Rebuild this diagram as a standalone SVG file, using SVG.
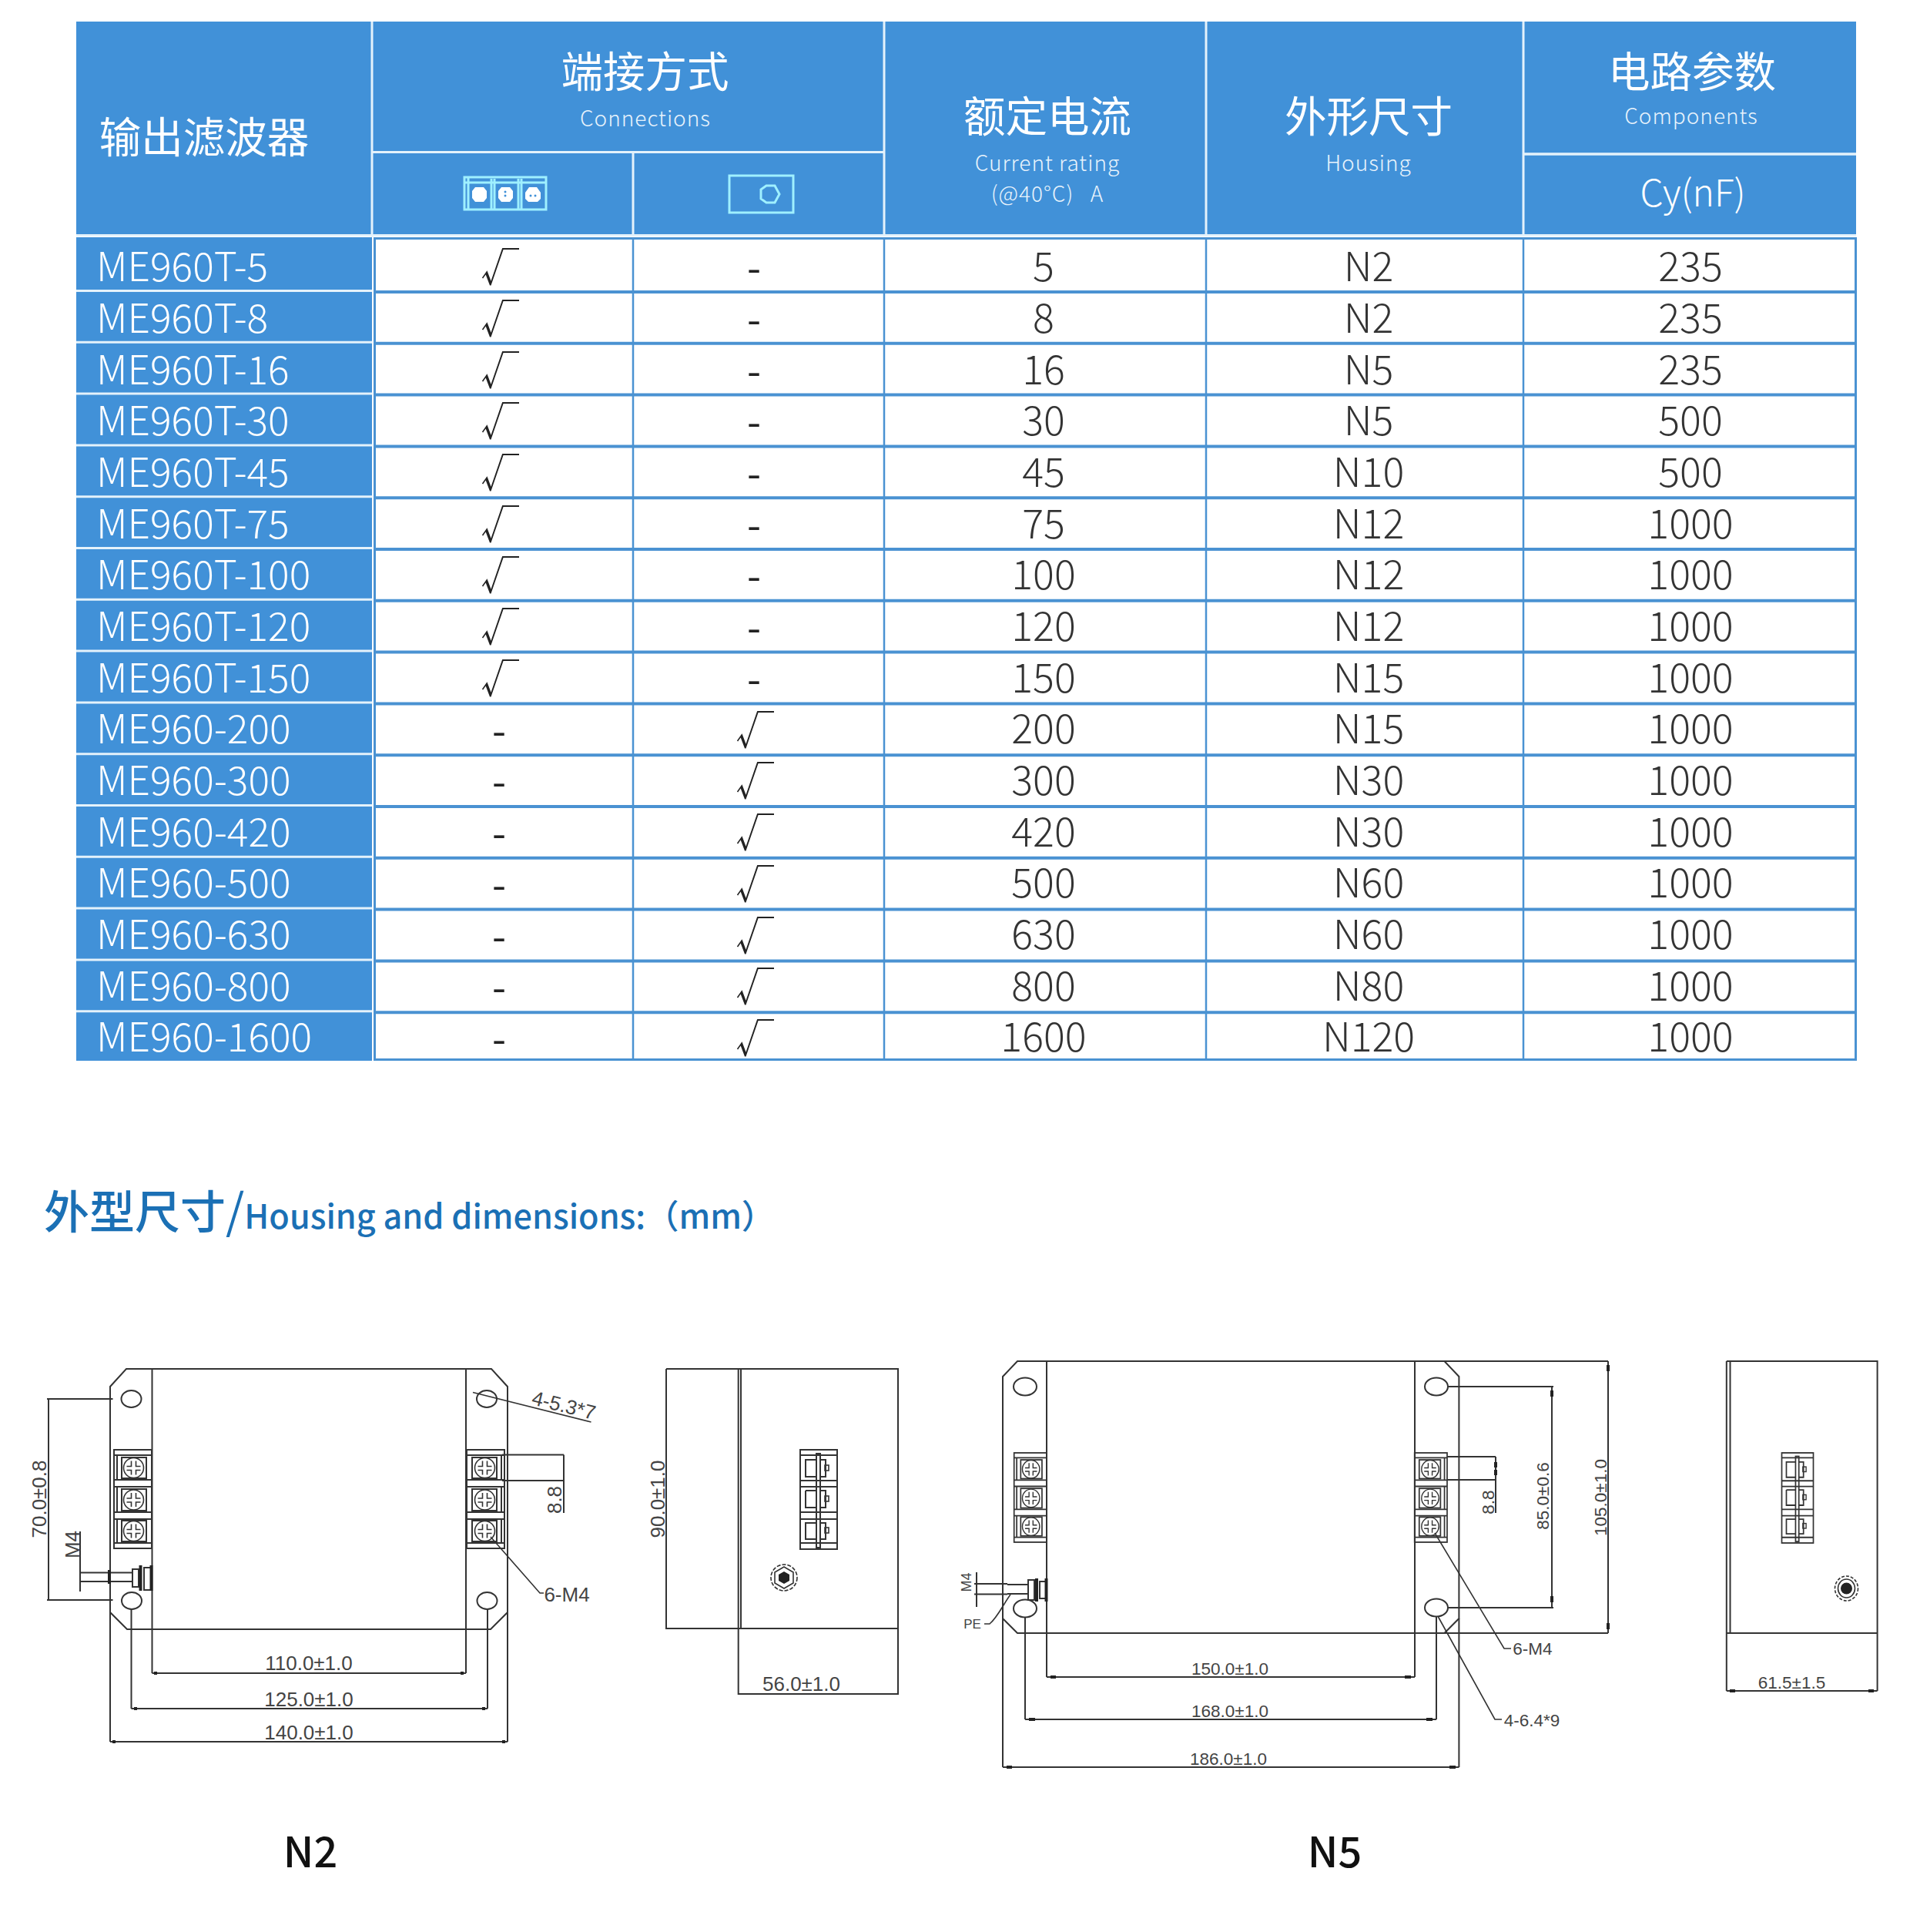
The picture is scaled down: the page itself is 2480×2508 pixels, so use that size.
<svg xmlns="http://www.w3.org/2000/svg" width="2480" height="2508" viewBox="0 0 2480 2508">
<style>
text{font-family:"Noto Sans CJK SC","Noto Sans",sans-serif;font-weight:300}
.h{fill:#fff;font-size:54.5px;text-anchor:middle;font-weight:400}
.s{fill:#e8f3fc;font-size:28px;text-anchor:middle;letter-spacing:1px}
.m{fill:#fff;font-size:51.5px}
.t{fill:#333;font-size:52px;text-anchor:middle}
.c{fill:#222;font-size:50px;text-anchor:middle}
.x{fill:#222;font-size:52px;text-anchor:middle;font-weight:400}
.d{font-family:"Liberation Sans",Arial,sans-serif;font-size:26px;fill:#444;text-anchor:middle;font-weight:400}
.e{font-family:"Liberation Sans",Arial,sans-serif;font-size:22.5px;fill:#444;text-anchor:middle;font-weight:400}
.l{fill:none;stroke:#333;stroke-width:2}
.f{fill:none;stroke:#333;stroke-width:1.6}
.a{fill:none;stroke:#222;stroke-width:4}
.i{fill:none;stroke:#9ff0ff;stroke-width:3}
.wl{stroke:#e4f2fb;stroke-width:3}
.bl{stroke:#4a92d2;stroke-width:4}
.bv{stroke:#4a92d2;stroke-width:2.5}
</style>
<defs>
<g id="screw"><circle r="13" class="f"/><path class="f" d="M-9-2H-3V-9M3-9V-2H9M9 3H3V9M-3 9V3H-9"/></g>
<g id="frontT">
<rect x="0" y="0" width="49" height="128" class="l"/>
<path class="l" d="M0 7H49M0 39H49M0 48H49M0 81H49M0 90H49M0 121H49M4 7V39M4 48V81M4 90V121"/>
<rect x="10" y="10" width="32" height="27" class="l"/><rect x="10" y="51" width="32" height="28" class="l"/><rect x="10" y="92" width="32" height="27" class="l"/>
<use href="#screw" x="25.5" y="23.5"/><use href="#screw" x="25.5" y="65"/><use href="#screw" x="25.5" y="105.5"/>
</g>
<g id="sideT">
<rect x="0" y="0" width="48" height="129" class="l"/>
<path class="l" d="M0 7H48M0 40H48M0 48H48M0 81H48M0 90H48M0 121H48"/>
<rect x="21" y="5" width="5" height="122" class="l"/>
<path class="l" d="M21 13H7V35H21M7 53H21M7 53V75H21M21 95H7V116H21M26 13H33V35H26M26 53H33V75H26M26 95H33V116H26"/>
<rect x="32" y="20" width="5" height="7" class="f"/><rect x="32" y="60" width="5" height="7" class="f"/><rect x="32" y="101" width="5" height="7" class="f"/>
</g>
</defs>
<rect width="2480" height="2508" fill="#fff"/>

<g id="table-header">
<rect x="99" y="28" width="2311" height="276" fill="#4191d8"/>
<path class="wl" d="M99 305.500H2410M483 28V308M1148 28V305M1566 28V305M1978 28V305M483 197.500H1148M822 198V305"/>
<path stroke="#e4f2fb" stroke-width="3.500" d="M1978 200H2410"/>
<text class="h" x="265" y="198">输出滤波器</text>
<text class="h" x="837.500" y="113">端接方式</text>
<text class="s" x="838" y="164">Connections</text>
<text class="h" x="1360" y="171">额定电流</text>
<text class="s" x="1360" y="222">Current rating</text>
<text class="s" x="1360" y="262" xml:space="preserve">(@40°C)   A</text>
<text class="h" x="1777" y="171">外形尺寸</text>
<text class="s" x="1777" y="222">Housing</text>
<text class="h" x="2197" y="113">电路参数</text>
<text class="s" x="2196" y="161">Components</text>
<text class="m" x="2198" y="268" text-anchor="middle" style="font-size:48px">Cy(nF)</text>
<g id="icon-terminal">
<rect x="603" y="230" width="106" height="42" class="i" stroke-width="3.500"/><path class="i" d="M603 237H709M608 230V272M638 232V272M642 232V272M673 232V272M677 232V272"/>
<path fill="#fff" d="M617 243H628L632 248V257L628 262H617L613 257V248ZM651 243H662L666 248V257L662 262H651L647 257V248ZM687 243H697L702 250V258L698 262H686L682 258V250Z"/>
<circle cx="656" cy="249" r="1.500" fill="#4191d8"/><circle cx="656" cy="254" r="1.500" fill="#4191d8"/>
<circle cx="689" cy="254" r="1.500" fill="#4191d8"/><circle cx="695" cy="254" r="1.500" fill="#4191d8"/>
</g>
<g id="icon-bolt">
<rect x="947" y="228" width="83" height="48" class="i" stroke-width="3.500"/>
<path class="i" stroke-width="4" d="M995 241H1006L1012 252L1006 263H995L988 258V246Z"/>
</g>
</g>

<g id="table-rows">
<rect x="99" y="308" width="384" height="1069" fill="#4191d8"/>
<rect x="486.500" y="309.500" width="1923" height="1066" fill="#fff" stroke="#4a92d2" stroke-width="3"/>
<path class="wl" d="M99 377.500H483M99 444.300H483M99 511.100H483M99 577.900H483M99 644.700H483M99 711.500H483M99 778.300H483M99 845.100H483M99 911.900H483M99 978.700H483M99 1045.500H483M99 1112.300H483M99 1179.100H483M99 1245.900H483M99 1312.700H483"/>
<path class="bl" d="M486 379H2410M486 445.800H2410M486 512.600H2410M486 579.400H2410M486 646.200H2410M486 713H2410M486 779.800H2410M486 846.600H2410M486 913.400H2410M486 980.200H2410M486 1047H2410M486 1113.800H2410M486 1180.600H2410M486 1247.400H2410M486 1314.200H2410"/>
<path class="bv" d="M822 310V1376M1148 310V1376M1566 310V1376M1978 310V1376"/>
<g id="col-model">
<text class="m" x="125" y="365">ME960T-5</text><text class="m" x="125" y="431.700">ME960T-8</text><text class="m" x="125" y="498.500">ME960T-16</text><text class="m" x="125" y="565.200">ME960T-30</text><text class="m" x="125" y="631.900">ME960T-45</text><text class="m" x="125" y="698.700">ME960T-75</text><text class="m" x="125" y="765.400">ME960T-100</text><text class="m" x="125" y="832.100">ME960T-120</text><text class="m" x="125" y="898.800">ME960T-150</text><text class="m" x="125" y="965">ME960-200</text><text class="m" x="125" y="1031.700">ME960-300</text><text class="m" x="125" y="1098.500">ME960-420</text><text class="m" x="125" y="1165">ME960-500</text><text class="m" x="125" y="1231.800">ME960-630</text><text class="m" x="125" y="1298.600">ME960-800</text><text class="m" x="125" y="1365">ME960-1600</text>
</g>
<g id="col-terminal">
<text class="c" x="649" y="366">√</text><text class="c" x="649" y="432.700">√</text><text class="c" x="649" y="499.500">√</text><text class="c" x="649" y="566.200">√</text><text class="c" x="649" y="632.900">√</text><text class="c" x="649" y="699.700">√</text><text class="c" x="649" y="766.400">√</text><text class="c" x="649" y="833.100">√</text><text class="c" x="649" y="899.800">√</text>
<text class="x" x="648" y="967.600">-</text><text class="x" x="648" y="1034.300">-</text><text class="x" x="648" y="1101">-</text><text class="x" x="648" y="1167.800">-</text><text class="x" x="648" y="1234.500">-</text><text class="x" x="648" y="1301.200">-</text><text class="x" x="648" y="1367.500">-</text>
</g>
<g id="col-bolt">
<text class="x" x="979" y="367">-</text><text class="x" x="979" y="433.700">-</text><text class="x" x="979" y="500.500">-</text><text class="x" x="979" y="567.200">-</text><text class="x" x="979" y="633.900">-</text><text class="x" x="979" y="700.700">-</text><text class="x" x="979" y="767.400">-</text><text class="x" x="979" y="834.100">-</text><text class="x" x="979" y="900.800">-</text>
<text class="c" x="980" y="966.600">√</text><text class="c" x="980" y="1033.300">√</text><text class="c" x="980" y="1100">√</text><text class="c" x="980" y="1166.800">√</text><text class="c" x="980" y="1233.500">√</text><text class="c" x="980" y="1300.200">√</text><text class="c" x="980" y="1366.500">√</text>
</g>
<g id="col-current">
<text class="t" x="1355" y="365">5</text><text class="t" x="1355" y="431.700">8</text><text class="t" x="1355" y="498.500">16</text><text class="t" x="1355" y="565.200">30</text><text class="t" x="1355" y="631.900">45</text><text class="t" x="1355" y="698.700">75</text><text class="t" x="1355" y="765.400">100</text><text class="t" x="1355" y="832.100">120</text><text class="t" x="1355" y="898.800">150</text><text class="t" x="1355" y="965">200</text><text class="t" x="1355" y="1031.700">300</text><text class="t" x="1355" y="1098.500">420</text><text class="t" x="1355" y="1165">500</text><text class="t" x="1355" y="1231.800">630</text><text class="t" x="1355" y="1298.600">800</text><text class="t" x="1355" y="1365">1600</text>
</g>
<g id="col-housing">
<text class="t" x="1777" y="365">N2</text><text class="t" x="1777" y="431.700">N2</text><text class="t" x="1777" y="498.500">N5</text><text class="t" x="1777" y="565.200">N5</text><text class="t" x="1777" y="631.900">N10</text><text class="t" x="1777" y="698.700">N12</text><text class="t" x="1777" y="765.400">N12</text><text class="t" x="1777" y="832.100">N12</text><text class="t" x="1777" y="898.800">N15</text><text class="t" x="1777" y="965">N15</text><text class="t" x="1777" y="1031.700">N30</text><text class="t" x="1777" y="1098.500">N30</text><text class="t" x="1777" y="1165">N60</text><text class="t" x="1777" y="1231.800">N60</text><text class="t" x="1777" y="1298.600">N80</text><text class="t" x="1777" y="1365">N120</text>
</g>
<g id="col-cy">
<text class="t" x="2195" y="365">235</text><text class="t" x="2195" y="431.700">235</text><text class="t" x="2195" y="498.500">235</text><text class="t" x="2195" y="565.200">500</text><text class="t" x="2195" y="631.900">500</text><text class="t" x="2195" y="698.700">1000</text><text class="t" x="2195" y="765.400">1000</text><text class="t" x="2195" y="832.100">1000</text><text class="t" x="2195" y="898.800">1000</text><text class="t" x="2195" y="965">1000</text><text class="t" x="2195" y="1031.700">1000</text><text class="t" x="2195" y="1098.500">1000</text><text class="t" x="2195" y="1165">1000</text><text class="t" x="2195" y="1231.800">1000</text><text class="t" x="2195" y="1298.600">1000</text><text class="t" x="2195" y="1365">1000</text>
</g>
</g>

<g id="title">
<text x="57" y="1595" font-size="59" fill="#1b70b5" style="font-weight:500">外型尺寸<tspan font-size="62" style="font-weight:400">/</tspan><tspan font-size="43.2" style="font-weight:500">Housing and dimensions:（mm）</tspan></text>
</g>

<g id="n2-front">
<path class="l" d="M143 1800L164 1777H638L659 1800V2093L637 2115H165L143 2093Z"/>
<path class="l" d="M197.500 1777V2172M605 1777V2172"/>
<ellipse cx="170.500" cy="1816" rx="13" ry="11" class="l"/><ellipse cx="632" cy="1816" rx="13" ry="11" class="l"/>
<ellipse cx="171" cy="2078" rx="13" ry="11" class="l"/><ellipse cx="632.500" cy="2078" rx="13" ry="11" class="l"/>
<use href="#frontT" x="148" y="1882"/>
<use href="#frontT" transform="translate(655,1882) scale(-1,1)"/>
<path class="l" d="M170.500 2089V2218M633 2089V2218M143 2093V2261M659 2093V2261"/>
<path class="l" d="M197.500 2172H605M170.500 2218H633M143 2261H659"/>
<path class="a" stroke-width="3" d="M200 2172H204M598 2172H602M174 2218H178M626 2218H630M146 2261H150M652 2261H656"/>
<text class="d" x="401" y="2168">110.0±1.0</text><text class="d" x="401" y="2215">125.0±1.0</text><text class="d" x="401" y="2257.500">140.0±1.0</text>
<path class="l" d="M61 1816H146.500M61 2077H146.500M63 1816V2077"/>
<text class="d" transform="translate(60,1946) rotate(-90)">70.0±0.8</text>
<path class="l" d="M104 1988V2066M104 2041.500H142M104 2053H142"/>
<text class="d" transform="translate(103,2005) rotate(-90)">M4</text>
<path class="l" d="M142 2041.500H172M142 2053H172M172 2037H180V2060H172ZM187 2035H197V2064H187Z"/>
<path class="a" d="M142 2038V2056M182.500 2032V2065"/><path class="a" d="M196.500 2032V2065"/>
<path class="l" d="M652 1888.500H732M652 1922H732M732 1888.500V1964"/>
<text class="d" transform="translate(729,1947) rotate(-90)">8.8</text>
<path class="f" d="M614 1807.500L767.500 1846"/>
<text class="d" transform="translate(730,1833) rotate(14)">4-5.3*7</text>
<path class="f" d="M637 1995L701 2068H706"/>
<text class="d" x="736" y="2079">6-M4</text>
</g>

<g id="n2-side">
<path class="l" d="M865 1777H1166V2200M865 1777V2114H1166M958.700 1777V2200M962 1777V2114M958.700 2199H1166"/>
<use href="#sideT" x="1039" y="1882"/>
<circle cx="1018" cy="2048" r="17" class="f" stroke-dasharray="5 2"/>
<path class="f" d="M1018 2034L1030 2041V2055L1018 2062L1006 2055V2041Z"/>
<path fill="#222" d="M1018 2040L1025 2044V2052L1018 2056L1011 2052V2044Z"/>
<text class="d" transform="translate(863,1946) rotate(-90)">90.0±1.0</text>
<text class="d" x="1040.500" y="2195">56.0±1.0</text>
</g>

<g id="n5-front">
<path class="l" d="M1302 1787L1321 1767H1875.500L1894.400 1787V2101L1875.500 2120H1321L1302 2101Z"/>
<path class="l" d="M1359 1767V2177M1837 1767V2177M1875.500 1767H2088M1875.500 2120H2088M2088 1767V2120"/>
<ellipse cx="1331" cy="1800" rx="15" ry="11.500" class="l"/><ellipse cx="1865" cy="1800" rx="15" ry="11.500" class="l"/>
<ellipse cx="1331" cy="2088" rx="15" ry="11.500" class="l"/><ellipse cx="1865" cy="2087" rx="15" ry="11.500" class="l"/>
<use href="#frontT" transform="translate(1316.700,1886) scale(.863,.906)"/>
<use href="#frontT" transform="translate(1879,1886) scale(-.863,.906)"/>
<path class="l" d="M1331 2099V2232M1865 2099V2232M1302 2101V2294M1894.400 2101V2294M1359 2177H1837M1331 2232H1865M1302 2294H1894.400"/>
<path class="a" d="M1364 2177H1371M1824 2177H1832M1336 2232H1344M1852 2232H1860M1307 2294H1314M1882 2294H1890"/>
<text class="e" x="1597" y="2174">150.0±1.0</text><text class="e" x="1597" y="2229">168.0±1.0</text><text class="e" x="1595" y="2291">186.0±1.0</text>
<path class="l" d="M1879 1800H2017M1879 2087H2017M2015 1800V2087M1879 1891H1942M1879 1921H1942M1942 1891V1964"/>
<path class="a" d="M2015 1805V1813M2015 2072V2080M2088 1772V1780M2088 2107V2115M1942 1898V1905M1942 1908V1915"/>
<text class="e" transform="translate(2086,1944) rotate(-90)">105.0±1.0</text>
<text class="e" transform="translate(2011,1942) rotate(-90)">85.0±0.6</text>
<text class="e" transform="translate(1939.500,1950) rotate(-90)">8.8</text>
<path class="f" d="M1863 1990L1953 2140H1962"/>
<text class="e" x="1990" y="2148">6-M4</text>
<path class="f" d="M1867.500 2099L1941 2232H1950"/>
<text class="e" x="1989" y="2241">4-6.4*9</text>
<path class="l" d="M1268 2041V2086M1265 2056H1308M1265 2069.500H1308"/>
<path class="l" d="M1308 2057H1335M1308 2069H1335M1335 2051H1343V2077H1335ZM1350 2053H1358V2075H1350Z"/>
<path class="a" stroke-width="5" d="M1346 2049V2079"/><path class="a" d="M1358.500 2049V2079"/>
<text class="e" transform="translate(1261,2054) rotate(-90)" style="font-size:18px">M4</text>
<path class="f" d="M1278 2108H1285C1295 2100 1303 2082 1312 2070"/>
<text class="e" x="1262.500" y="2114" style="font-size:17px">PE</text>
</g>

<g id="n5-side">
<path class="l" d="M2241.800 1767H2437.600V2195M2241.800 1767V2195M2246.500 1767V2120M2241.800 2120H2437.600M2241.800 2195H2437.600"/>
<path class="a" d="M2246 2195H2253M2426 2195H2433"/>
<use href="#sideT" transform="translate(2313.500,1886) scale(.854,.907)"/>
<ellipse cx="2397.500" cy="2062" rx="15" ry="16" class="f" stroke-dasharray="4 2"/>
<ellipse cx="2397.500" cy="2062" rx="11" ry="12" class="f"/>
<circle cx="2397.500" cy="2062" r="7.500" fill="#222"/>
<text class="e" x="2326.500" y="2192">61.5±1.5</text>
</g>

<g id="captions">
<text x="403" y="2424" font-size="54" fill="#111" text-anchor="middle" style="font-weight:500">N2</text>
<text x="1733" y="2424" font-size="54" fill="#111" text-anchor="middle" style="font-weight:500">N5</text>
</g>
</svg>
